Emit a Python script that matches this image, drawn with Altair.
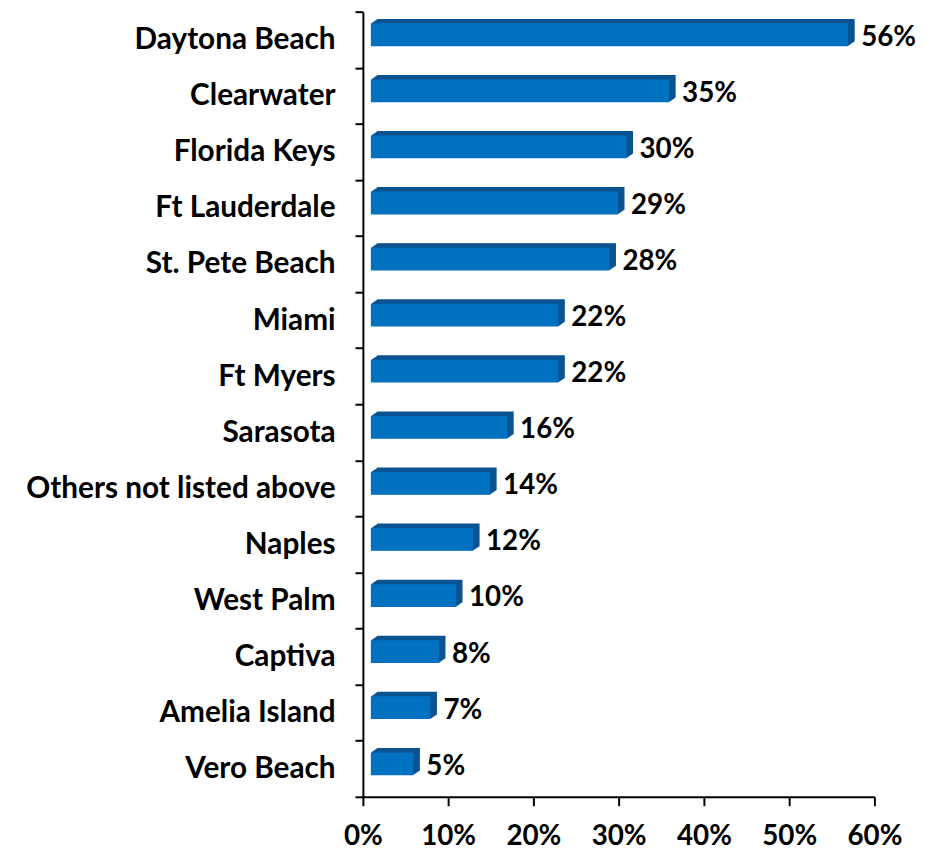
import altair as alt
import pandas as pd

categories = ["Daytona Beach", "Clearwater", "Florida Keys", "Ft Lauderdale", "St. Pete Beach",
              "Miami", "Ft Myers", "Sarasota", "Others not listed above", "Naples",
              "West Palm", "Captiva", "Amelia Island", "Vero Beach"]
values = [0.56, 0.35, 0.30, 0.29, 0.28, 0.22, 0.22, 0.16, 0.14, 0.12, 0.10, 0.08, 0.07, 0.05]
tick_values = [0, 0.1, 0.2, 0.3, 0.4, 0.5, 0.6]

df = pd.DataFrame({"place": categories, "share": values})
df["label"] = [f"{round(v*100)}%" for v in values]

FONT = "Lato"

x_enc = alt.X("share:Q", scale=alt.Scale(domain=[0, 0.6], nice=False),
              axis=alt.Axis(values=tick_values, format="%", title=None, grid=False,
                            domainColor="black", domainWidth=2, tickColor="black",
                            tickWidth=2, tickSize=9, labelFont=FONT, labelFontSize=28,
                            labelFontWeight="bold", labelColor="black", labelPadding=17,
                            labelFlush=False, labelOverlap=False))
y_enc = alt.Y("place:N", sort=categories, scale=alt.Scale(paddingInner=0, paddingOuter=0),
              axis=alt.Axis(title=None, domainColor="black", domainWidth=2, tickColor="black",
                            tickWidth=2, tickSize=8, tickBand="extent", labelFont=FONT,
                            labelFontSize=30, labelFontWeight="bold", labelColor="black",
                            labelPadding=20, labelLimit=0))

base = alt.Chart(df)
layers = []
steps = 7
for i in range(1, steps + 1):
    layers.append(base.mark_bar(size=23, color="#0B5290",
                                xOffset=8 + i * 6.5 / steps,
                                yOffset=-5 - i * 4.5 / steps).encode(x=x_enc, y=y_enc))
front = base.mark_bar(size=23, color="#0070C0", xOffset=8, yOffset=-5).encode(x=x_enc, y=y_enc)
text = base.mark_text(align="left", baseline="middle", dx=21, dy=-2, font=FONT,
                      fontSize=28, fontWeight="bold", color="black").encode(
    x="share:Q", y=alt.Y("place:N", sort=categories), text="label:N")

chart = alt.layer(*layers, front, text).properties(
    width=516, height=792,
    autosize=alt.AutoSizeParams(type="none"),
    padding={"left": 358, "top": 0, "right": 48, "bottom": 51},
).configure_view(stroke=None)

chart.save("out.html", embed_options={"renderer": "svg", "actions": False})
